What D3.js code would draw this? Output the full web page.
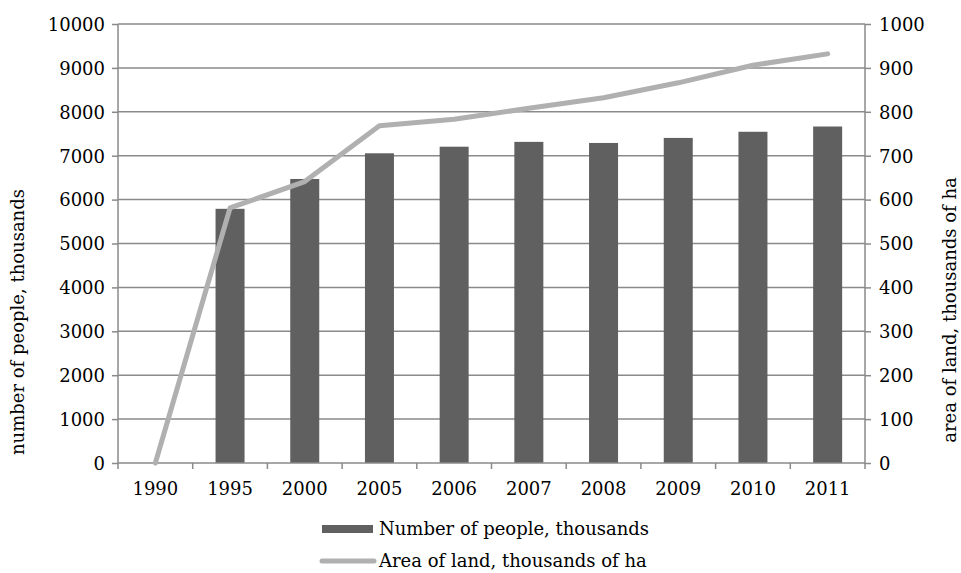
<!DOCTYPE html>
<html><head><meta charset="utf-8">
<script src="https://cdn.jsdelivr.net/npm/d3@7/dist/d3.min.js"></script>
<style>body{margin:0;background:#fff}svg{display:block}text{fill:#000}</style>
</head><body><svg id="c" width="961" height="573"></svg>
<script>
const years = ["1990","1995","2000","2005","2006","2007","2008","2009","2010","2011"];
const people = [null,5790,6470,7055,7205,7315,7290,7405,7545,7665];
const land = [0,581,641,768,783,808,832,866,906,932];
const leftTicks = [0,1000,2000,3000,4000,5000,6000,7000,8000,9000,10000];
const rightTicks = [0,100,200,300,400,500,600,700,800,900,1000];
const seriesNames = ["Number of people, thousands","Area of land, thousands of ha"];
const axisTitles = ["number of people, thousands","area of land, thousands of ha"];

const svg = d3.select("#c");
const L=118,R=865,T=24,B=463;
const x = d3.scaleBand().domain(years).range([L,R]);
const yL = d3.scaleLinear().domain([0,10000]).range([B,T]);
const yR = d3.scaleLinear().domain([0,1000]).range([B,T]);
const grid="#8a8a8a", fs=18;
const ff="DejaVu Serif";

svg.append("g").selectAll("line").data(leftTicks.filter(d=>d>0)).join("line")
  .attr("x1",L).attr("x2",R).attr("y1",d=>yL(d)).attr("y2",d=>yL(d))
  .attr("stroke",grid).attr("stroke-width",1.5);

const bw = 29;
svg.append("g").selectAll("rect").data(years.map((y,i)=>({y,v:people[i]})).filter(d=>d.v!=null)).join("rect")
  .attr("x",d=>x(d.y)+x.bandwidth()/2-bw/2).attr("width",bw)
  .attr("y",d=>yL(d.v)).attr("height",d=>B-yL(d.v))
  .attr("fill","#606060");

const axL = svg.append("g").attr("transform",`translate(${L},0)`)
  .call(d3.axisLeft(yL).tickValues(leftTicks).tickSize(6).tickFormat(d3.format("d")));
const axR = svg.append("g").attr("transform",`translate(${R},0)`)
  .call(d3.axisRight(yR).tickValues(rightTicks).tickSize(6).tickFormat(d3.format("d")));
const tickPos = years.map(y=>x(y)).concat([R]);
const axB = svg.append("g");
axB.append("line").attr("x1",L).attr("x2",R).attr("y1",B).attr("y2",B).attr("stroke",grid).attr("stroke-width",1.5);
axB.selectAll("line.t").data(tickPos).join("line").attr("class","t")
  .attr("x1",d=>d).attr("x2",d=>d).attr("y1",B).attr("y2",B+6).attr("stroke",grid).attr("stroke-width",1.5);
axB.selectAll("text").data(years).join("text")
  .attr("x",d=>x(d)+x.bandwidth()/2).attr("y",B+32).attr("text-anchor","middle")
  .text(d=>d);
[axL,axR].forEach(a=>{
  a.attr("font-family",null).attr("font-size",null);
  a.select(".domain").attr("stroke",grid).attr("stroke-width",1.5);
  a.selectAll(".tick line").attr("stroke",grid).attr("stroke-width",1.5);
  a.selectAll(".tick text").attr("dy","0.35em");
});
axL.select(".domain").attr("d",`M0,${B}V${T}`);
axR.select(".domain").attr("d",`M0,${B}V${T}`);
axL.selectAll(".tick text").attr("x",-13);
axR.selectAll(".tick text").attr("x",14);

const line = d3.line().x((d,i)=>x(years[i])+x.bandwidth()/2).y(d=>yR(d));
svg.append("path").datum(land).attr("d",line).attr("fill","none")
  .attr("stroke","#b0b0b0").attr("stroke-width",5).attr("stroke-linecap","round").attr("stroke-linejoin","round");

svg.append("text").attr("transform","translate(24,322) rotate(-90)").attr("text-anchor","middle")
  .text(axisTitles[0]);
svg.append("text").attr("transform","translate(950,310) rotate(-90)").attr("text-anchor","middle")
  .attr("dy","0.35em").text(axisTitles[1]);

const lg = svg.append("g");
lg.append("rect").attr("x",322).attr("y",525).attr("width",51).attr("height",8).attr("fill","#606060");
lg.append("line").attr("x1",322).attr("x2",374).attr("y1",561).attr("y2",561)
  .attr("stroke","#b0b0b0").attr("stroke-width",5).attr("stroke-linecap","round");
lg.append("text").attr("x",379).attr("y",529).attr("dy","0.35em").text(seriesNames[0]);
lg.append("text").attr("x",379).attr("y",561).attr("dy","0.35em").text(seriesNames[1]);

svg.selectAll("text").attr("font-size",fs).attr("font-family",ff);
</script></body></html>
